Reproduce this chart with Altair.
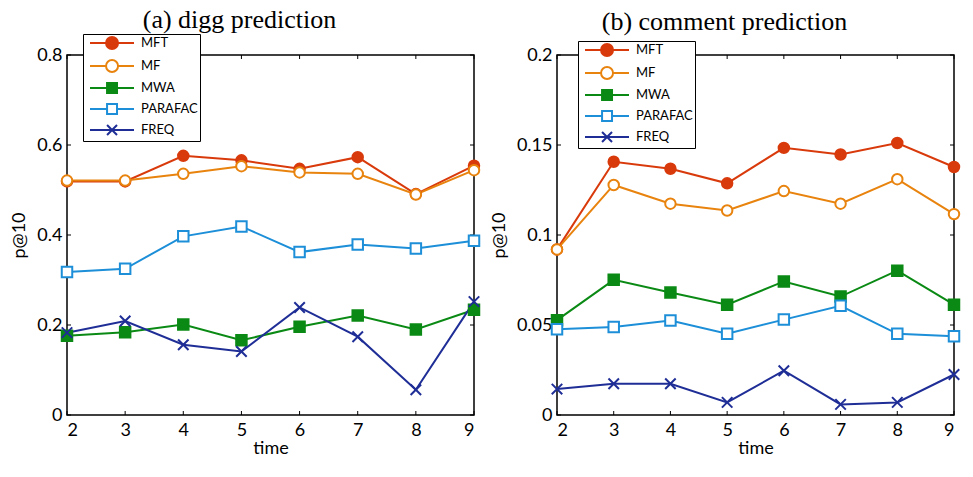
import altair as alt
import pandas as pd

TIME = [2, 3, 4, 5, 6, 7, 8, 9]
SERIES = ["MFT", "MF", "MWA", "PARAFAC", "FREQ"]

DIGG_MFT = [0.519, 0.519, 0.576, 0.566, 0.547, 0.573, 0.491, 0.554]
DIGG_MF = [0.521, 0.521, 0.536, 0.553, 0.539, 0.536, 0.490, 0.544]
DIGG_MWA = [0.176, 0.184, 0.201, 0.166, 0.196, 0.221, 0.190, 0.234]
DIGG_PARAFAC = [0.318, 0.325, 0.397, 0.419, 0.362, 0.379, 0.370, 0.387]
DIGG_FREQ = [0.183, 0.209, 0.156, 0.141, 0.239, 0.174, 0.056, 0.252]

COMM_MFT = [0.092, 0.1407, 0.1368, 0.1287, 0.1484, 0.1447, 0.1511, 0.1378]
COMM_MF = [0.092, 0.1278, 0.1174, 0.1136, 0.1244, 0.1174, 0.1310, 0.1116]
COMM_MWA = [0.0527, 0.0751, 0.0681, 0.0613, 0.0742, 0.0658, 0.0802, 0.0613]
COMM_PARAFAC = [0.0476, 0.0489, 0.0525, 0.0451, 0.0530, 0.0607, 0.0451, 0.0438]
COMM_FREQ = [0.0144, 0.0174, 0.0174, 0.0070, 0.0246, 0.0059, 0.0070, 0.0225]

DIGG_TICKS = [0, 0.2, 0.4, 0.6, 0.8]
COMM_TICKS = [0, 0.05, 0.1, 0.15, 0.2]

COLORS = ["#D93A0B", "#E8830E", "#0A8A14", "#1C8FD8", "#1F2E96"]
FILLS = ["#D93A0B", "#FFFFFF", "#0A8A14", "#FFFFFF", "#1F2E96"]
POINT_SHAPES = ["circle", "circle", "square", "square", "M-1,-1L1,1M-1,1L1,-1"]

CIRC = "M4.34,0A1,1,0,1,1,2.34,0A1,1,0,1,1,4.34,0Z"
SQ = "M2.51,-0.83L4.17,-0.83L4.17,0.83L2.51,0.83Z"
LEGEND_SHAPES = [
    "M-0.33,0L7,0" + CIRC,
    "M-0.33,0L2.34,0M4.34,0L7,0" + CIRC,
    "M-0.33,0L7,0" + SQ,
    "M-0.33,0L2.51,0M4.17,0L7,0" + SQ,
    "M-0.33,0L7,0M2.51,-0.83L4.17,0.83M2.51,0.83L4.17,-0.83",
]

FONT = "Lato"


def long_df(series_vals):
    rows = []
    for i, (name, vals) in enumerate(zip(SERIES, series_vals)):
        for t, v in zip(TIME, vals):
            rows.append({"time": t, "value": v, "series": name, "k": i})
    return pd.DataFrame(rows)


def panel(series_vals, w, h, ymax, yticks, title, lx, ly, toff, tdx):
    df = long_df(series_vals)
    base = alt.Chart(df)
    xs = alt.Scale(domain=[2, 9], nice=False, zero=False)
    ys = alt.Scale(domain=[0, ymax], nice=False)
    x = alt.X("time:Q", scale=xs,
              axis=alt.Axis(values=TIME, title="time", format="d"))
    y = alt.Y("value:Q", scale=ys,
              axis=alt.Axis(values=yticks, format="~g", title="p@10"))

    lines = base.mark_line(strokeWidth=2).encode(
        x=x, y=y,
        color=alt.Color("series:N", scale=alt.Scale(domain=SERIES, range=COLORS), legend=None),
        detail="k:O",
    )
    pts = base.mark_point(size=110, strokeWidth=2, opacity=1).encode(
        x=alt.X("time:Q", scale=xs), y=alt.Y("value:Q", scale=ys),
        stroke=alt.Stroke("series:N", scale=alt.Scale(domain=SERIES, range=COLORS), legend=None),
        fill=alt.Fill("series:N", scale=alt.Scale(domain=SERIES, range=FILLS), legend=None),
        shape=alt.Shape("series:N", scale=alt.Scale(domain=SERIES, range=POINT_SHAPES), legend=None),
    )
    leg = alt.Legend(
        orient="none", legendX=lx, legendY=ly, title=None,
        strokeColor="black", fillColor="white", padding=2,
        symbolSize=144, symbolStrokeWidth=2,
        labelFont=FONT, labelFontSize=13, labelColor="black",
        labelOffset=42, rowPadding=3, cornerRadius=0,
        labelExpr="datum.label + '   '",
    )
    legend_layer = base.mark_point(strokeWidth=2, opacity=1).encode(
        x=alt.X("time:Q", scale=xs), y=alt.Y("value:Q", scale=ys),
        stroke=alt.Stroke("series:N", scale=alt.Scale(domain=SERIES, range=COLORS), legend=leg),
        fill=alt.Fill("series:N", scale=alt.Scale(domain=SERIES, range=FILLS), legend=leg),
        shape=alt.Shape("series:N", scale=alt.Scale(domain=SERIES, range=LEGEND_SHAPES), legend=leg),
    ).transform_filter("datum.value < -1")

    tdf = pd.DataFrame({"t": TIME})
    vdf = pd.DataFrame({"v": yticks})
    tl = 4
    bt = alt.Chart(tdf).mark_rule(color="black", strokeWidth=1).encode(
        x=alt.X("t:Q", scale=xs), y=alt.value(h), y2=alt.value(h - tl))
    tt = alt.Chart(tdf).mark_rule(color="black", strokeWidth=1).encode(
        x=alt.X("t:Q", scale=xs), y=alt.value(0), y2=alt.value(tl))
    lt = alt.Chart(vdf).mark_rule(color="black", strokeWidth=1).encode(
        y=alt.Y("v:Q", scale=ys), x=alt.value(0), x2=alt.value(tl))
    rt = alt.Chart(vdf).mark_rule(color="black", strokeWidth=1).encode(
        y=alt.Y("v:Q", scale=ys), x=alt.value(w), x2=alt.value(w - tl))

    return alt.layer(bt, tt, lt, rt, lines, pts, legend_layer).resolve_scale(
        color="independent", stroke="independent", fill="independent", shape="independent"
    ).properties(
        width=w, height=h,
        title=alt.TitleParams(title, font="Liberation Serif", fontSize=26,
                              fontWeight="normal", color="black", offset=toff, dx=tdx),
    )


left = panel([DIGG_MFT, DIGG_MF, DIGG_MWA, DIGG_PARAFAC, DIGG_FREQ],
             407, 360, 0.8, DIGG_TICKS, "(a) digg prediction", 16, -21, 1, -31)
right = panel([COMM_MFT, COMM_MF, COMM_MWA, COMM_PARAFAC, COMM_FREQ],
              397, 360, 0.2, COMM_TICKS, "(b) comment prediction", 21, -14, 6, -31)

chart = alt.hconcat(left, right, spacing=5).properties(
    padding={"left": 2, "top": -3, "right": 0, "bottom": 0},
    background="white",
).configure_view(stroke="black", strokeWidth=1.5).configure_axis(
    domain=False, ticks=False, tickSize=0, grid=False,
    labelFont=FONT, labelFontSize=18, labelColor="black", labelPadding=5,
    titleFont=FONT, titleFontSize=18, titleFontWeight="normal", titleColor="black",
).configure_axisX(labelPadding=6, titlePadding=0).configure_axisY(titlePadding=8)

chart.save("out.html", embed_options={"renderer": "svg", "actions": False})
